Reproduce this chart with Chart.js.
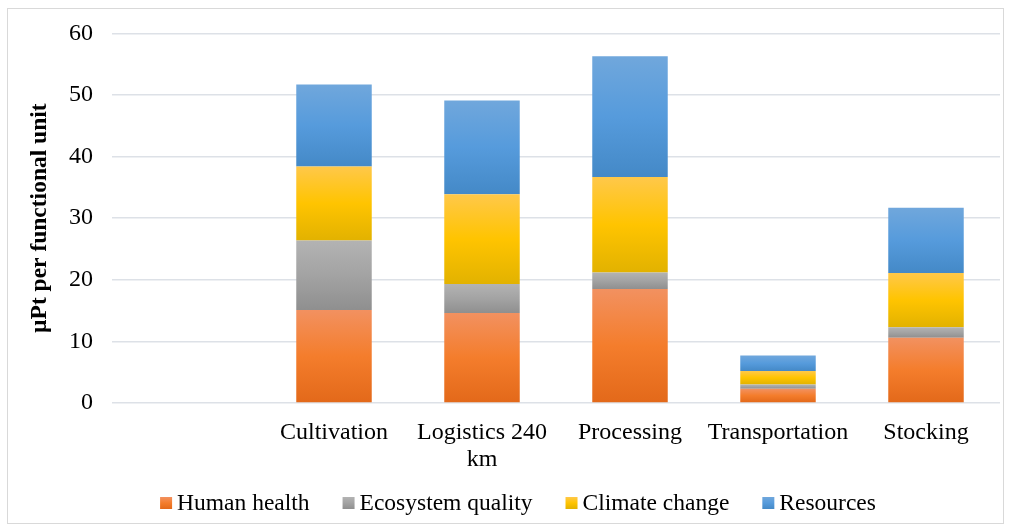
<!DOCTYPE html>
<html>
<head>
<meta charset="utf-8">
<script src="https://cdn.jsdelivr.net/npm/chart.js"></script>
<style>
  html, body { margin: 0; padding: 0; background: #fff; }
  #wrap { position: relative; width: 1013px; height: 530px; }
  #frame { position: absolute; left: 7px; top: 8px; width: 997px; height: 516px; border: 1px solid #d9d9d9; box-sizing: border-box; }
  canvas { position: absolute; left: 0; top: 0; }
</style>
</head>
<body>
<div id="wrap">
  <div id="frame"></div>
  <canvas id="impactChart" width="1013" height="530"></canvas>
</div>
<script>
// life-cycle stages (first slot left empty on purpose)
const stages = ["", "Cultivation", ["Logistics 240", "km"], "Processing", "Transportation", "Stocking"]

// damage categories, µPt per functional unit
const humanHealth = [null, 15.1, 14.6, 18.5, 2.3, 10.6]
const ecosystemQuality = [null, 11.3, 4.7, 2.7, 0.7, 1.7]
const climateChange = [null, 12.0, 14.6, 15.5, 2.2, 8.8]
const resources = [null, 13.3, 15.2, 19.6, 2.5, 10.6]

const yTicks = [0, 10, 20, 30, 40, 50, 60]

// top / middle / bottom shades for each stacked segment
const shades = {
  "Human health": ["#f29160", "#f47d2c", "#e3691a"],
  "Ecosystem quality": ["#b3b3b3", "#a3a3a3", "#8f8f8f"],
  "Climate change": ["#ffc84a", "#ffc400", "#e2b200"],
  "Resources": ["#70a7dc", "#569bdc", "#4489c7"],
}

const serif = "'Liberation Serif', 'Times New Roman', serif"

function vGradient(ctx, top, bottom, c) {
  const g = ctx.createLinearGradient(0, top, 0, bottom)
  g.addColorStop(0, c[0])
  g.addColorStop(0.5, c[1])
  g.addColorStop(1, c[2])
  return g
}

// paint every bar segment with a vertical gradient of its own
const segmentGradient = {
  id: "segmentGradient",
  beforeDatasetsDraw(chart) {
    chart.data.datasets.forEach((ds, i) => {
      const c = shades[ds.label]
      chart.getDatasetMeta(i).data.forEach(el => {
        if (!el || isNaN(el.y) || isNaN(el.base)) return
        el.options.backgroundColor = vGradient(chart.ctx, el.y, el.base, c)
      })
    })
  }
}

// compact legend under the axis: small square right next to its label
const boxLegend = {
  id: "boxLegend",
  afterDraw(chart) {
    const ctx = chart.ctx
    const box = 12, gap = 5, spacing = 33, cy = 503
    ctx.save()
    ctx.font = "23.5px " + serif
    ctx.textBaseline = "middle"
    const items = chart.data.datasets.map(ds => ({
      label: ds.label,
      w: box + gap + ctx.measureText(ds.label).width,
    }))
    const total = items.reduce((s, it) => s + it.w, 0) + spacing * (items.length - 1)
    let x = 518 - total / 2
    items.forEach(it => {
      ctx.fillStyle = vGradient(ctx, cy - box / 2, cy + box / 2, shades[it.label])
      ctx.fillRect(x, cy - box / 2, box, box)
      ctx.fillStyle = "#000"
      ctx.fillText(it.label, x + box + gap, cy + 1)
      x += it.w + spacing
    })
    ctx.restore()
  }
}

const makeSet = (label, values) => ({
  label: label,
  data: values,
  // scriptable so each bar gets its own options object
  backgroundColor: () => shades[label][1],
  borderWidth: 0,
  categoryPercentage: 1,
  barPercentage: 0.51,
})

new Chart(document.getElementById("impactChart"), {
  type: "bar",
  data: {
    labels: stages,
    datasets: [
      makeSet("Human health", humanHealth),
      makeSet("Ecosystem quality", ecosystemQuality),
      makeSet("Climate change", climateChange),
      makeSet("Resources", resources),
    ],
  },
  options: {
    responsive: false,
    animation: false,
    layout: { padding: { left: 0, right: 13, top: 18, bottom: 49 } },
    scales: {
      x: {
        stacked: true,
        grid: { display: false },
        border: { display: false },
        ticks: {
          color: "#000",
          font: { family: serif, size: 24, lineHeight: 1.125 },
          padding: 8,
          maxRotation: 0,
          autoSkip: false,
        },
      },
      y: {
        stacked: true,
        min: 0,
        max: 60,
        afterBuildTicks: axis => { axis.ticks = yTicks.map(v => ({ value: v })) },
        afterFit: axis => { axis.width = 112 },
        grid: { color: "#dde1e7", lineWidth: 1.5, drawTicks: false },
        border: { display: false },
        ticks: {
          color: "#000",
          font: { family: serif, size: 24 },
          padding: 19,
        },
        title: {
          display: true,
          text: "µPt per functional unit",
          color: "#000",
          font: { family: serif, size: 23.5, weight: "bold" },
          padding: { top: 26, bottom: 0 },
        },
      },
    },
    plugins: {
      legend: { display: false },
      tooltip: { enabled: false },
    },
  },
  plugins: [segmentGradient, boxLegend],
})
</script>
</body>
</html>
